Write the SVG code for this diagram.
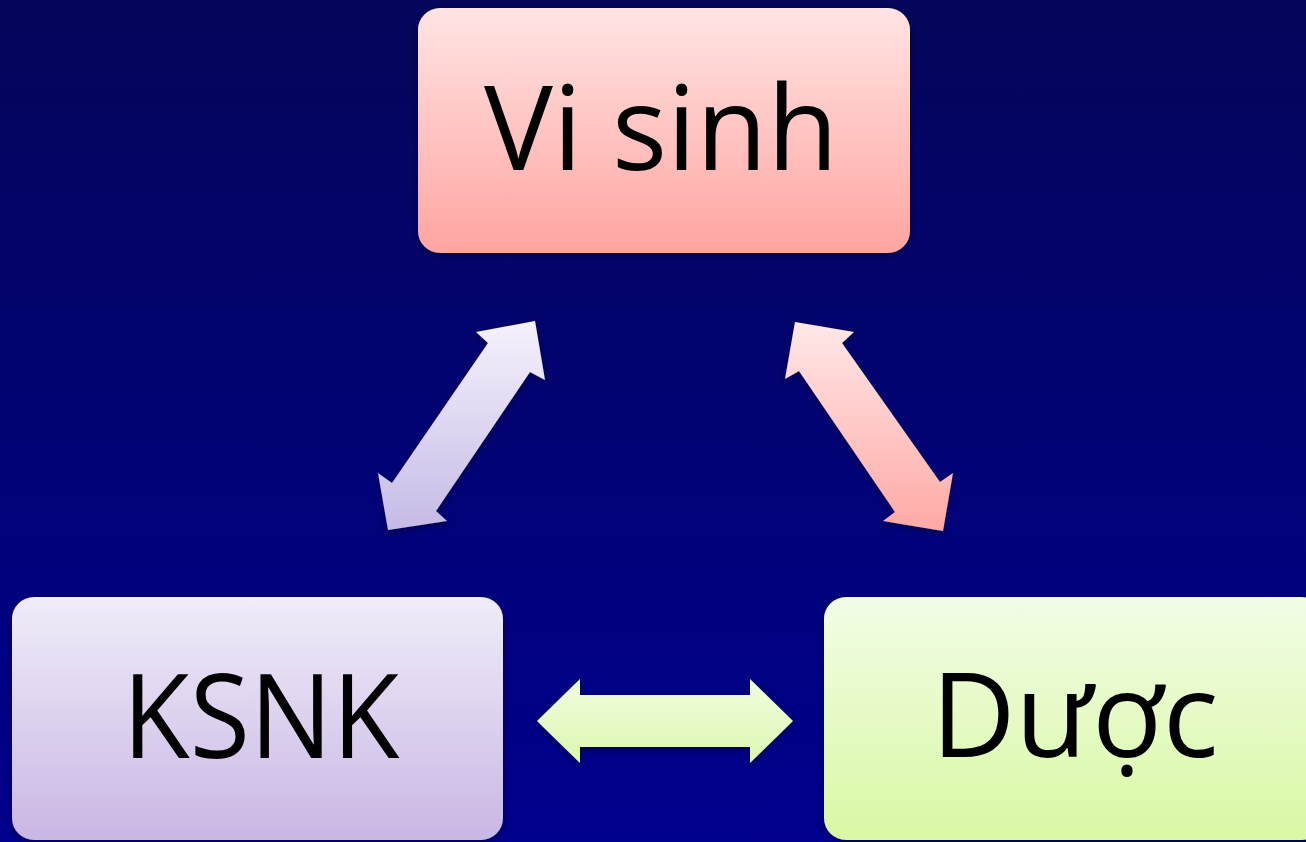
<svg xmlns="http://www.w3.org/2000/svg" width="1306" height="842" viewBox="0 0 1306 842">
<defs>
<linearGradient id="bg" x1="0" y1="0" x2="0" y2="1">
<stop offset="0" stop-color="#05055a"/>
<stop offset="1" stop-color="#00008e"/>
</linearGradient>
<linearGradient id="gRed" x1="0" y1="0" x2="0" y2="1">
<stop offset="0" stop-color="#ffe4e3"/>
<stop offset="1" stop-color="#ffa5a1"/>
</linearGradient>
<linearGradient id="gPur" x1="0" y1="0" x2="0" y2="1">
<stop offset="0" stop-color="#f0ecf9"/>
<stop offset="1" stop-color="#c9b7e4"/>
</linearGradient>
<linearGradient id="gGrn" x1="0" y1="0" x2="0" y2="1">
<stop offset="0" stop-color="#f2fde6"/>
<stop offset="1" stop-color="#d9f8a3"/>
</linearGradient>
<linearGradient id="aPur" gradientUnits="userSpaceOnUse" x1="0" y1="321" x2="0" y2="531">
<stop offset="0" stop-color="#f5f2fc"/>
<stop offset="1" stop-color="#c6bae6"/>
</linearGradient>
<linearGradient id="aRed" gradientUnits="userSpaceOnUse" x1="0" y1="321" x2="0" y2="531">
<stop offset="0" stop-color="#ffe8e8"/>
<stop offset="1" stop-color="#ffa9a5"/>
</linearGradient>
<linearGradient id="aGrn" gradientUnits="userSpaceOnUse" x1="0" y1="679" x2="0" y2="763">
<stop offset="0" stop-color="#f1fddf"/>
<stop offset="1" stop-color="#dcf7b0"/>
</linearGradient>
<filter id="sh" x="-10%" y="-10%" width="120%" height="120%">
<feDropShadow dx="0" dy="2" stdDeviation="3" flood-color="#000020" flood-opacity="0.6"/>
</filter>
</defs>
<style>
.lbl{font-family:"Open Sans","Noto Sans","Liberation Sans",sans-serif;font-size:118px;fill:#000;text-anchor:middle}
</style>
<rect x="0" y="0" width="1306" height="842" fill="url(#bg)"/>
<g id="connectors" filter="url(#sh)">
<polygon fill="url(#aPur)" points="535,321 545,380 530,372 436,511 447,521 388,530 378,473 392,483 488,343 476,332"/>
<polygon fill="url(#aRed)" points="795,322 854,332 842,343 940,482 953,473 943,531 883,521 895,512 799,371 785,379"/>
<polygon fill="url(#aGrn)" points="537,721 580,679 580,695 750,695 750,679 793,721 750,763 750,747 580,747 580,763"/>
</g>
<g id="node-visinh">
<rect x="418" y="8" width="492" height="245" rx="22" fill="url(#gRed)" filter="url(#sh)"/>
<text class="lbl" x="661" y="170" textLength="354" lengthAdjust="spacingAndGlyphs">Vi sinh</text>
</g>
<g id="node-ksnk">
<rect x="12" y="597" width="491" height="243" rx="22" fill="url(#gPur)" filter="url(#sh)"/>
<text class="lbl" x="261" y="758" textLength="277" lengthAdjust="spacingAndGlyphs">KSNK</text>
</g>
<g id="node-duoc">
<rect x="824" y="597" width="500" height="243" rx="22" fill="url(#gGrn)" filter="url(#sh)"/>
<text class="lbl" x="1075" y="757" textLength="287" lengthAdjust="spacingAndGlyphs">Dược</text>
</g>
</svg>
